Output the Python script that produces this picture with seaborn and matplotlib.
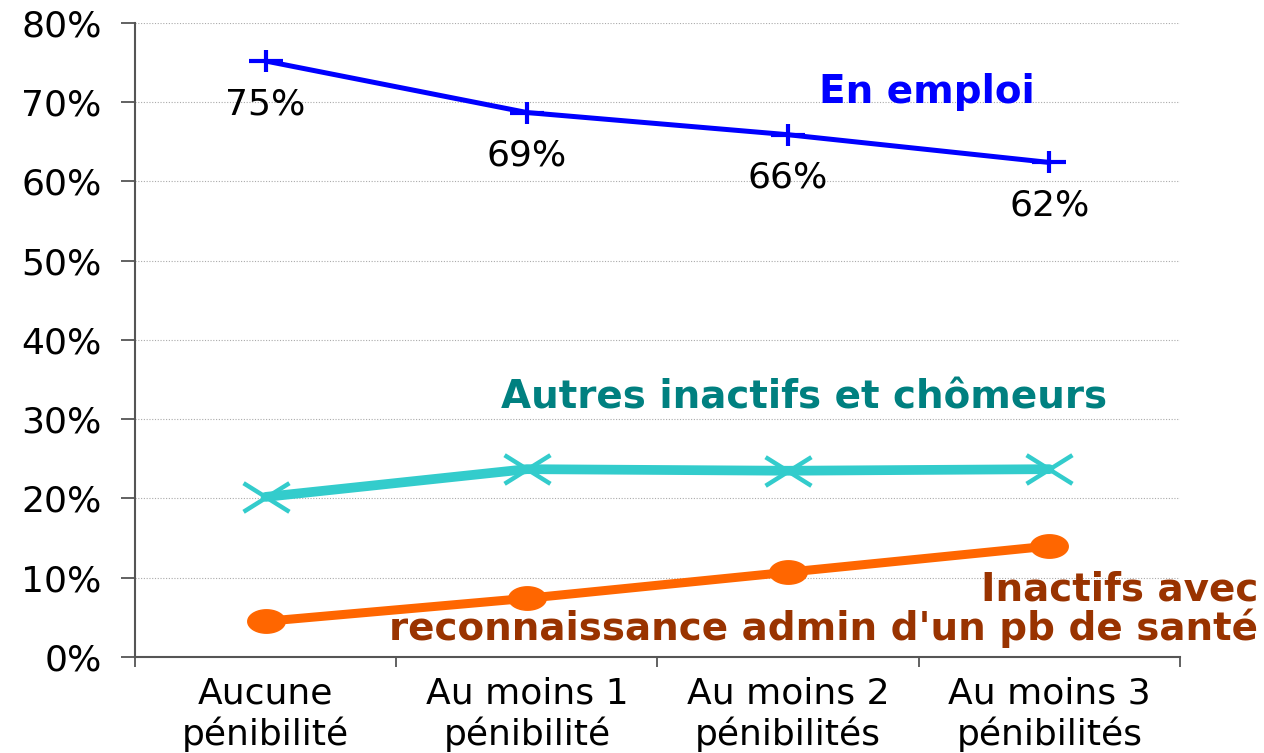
import numpy as np
import pandas as pd
import matplotlib
matplotlib.use("Agg")
import matplotlib.pyplot as plt
import seaborn as sns
from matplotlib.path import Path
from matplotlib.ticker import PercentFormatter

categories = ["Aucune\npénibilité", "Au moins 1\npénibilité",
              "Au moins 2\npénibilités", "Au moins 3\npénibilités"]
en_emploi = [75.2, 68.7, 65.9, 62.4]
autres_inactifs = [20.2, 23.7, 23.5, 23.7]
inactifs_sante = [4.5, 7.4, 10.7, 14.0]
label_emploi = "En emploi"
label_autres = "Autres inactifs et chômeurs"
label_sante = "Inactifs avec\nreconnaissance admin d'un pb de santé"

BLUE = "#0000FF"
CYAN = "#33CCCC"
TEAL = "#008080"
ORANGE = "#FF6600"
BROWN = "#993300"


# the markers in the original are stretched horizontally
def wide_plus(w=1.55):
    return Path([(-w, 0), (w, 0), (0, -1), (0, 1)],
                [Path.MOVETO, Path.LINETO, Path.MOVETO, Path.LINETO])


def wide_cross(w=1.6):
    return Path([(-w, -1), (w, 1), (-w, 1), (w, -1)],
                [Path.MOVETO, Path.LINETO, Path.MOVETO, Path.LINETO])


def wide_ellipse(w=1.6):
    t = np.linspace(0, 2 * np.pi, 64)
    return Path(np.column_stack([w * np.cos(t), np.sin(t)]), closed=True)


sns.set_style("white")
plt.rcParams["font.family"] = ["DejaVu Sans"]

fig = plt.figure(figsize=(12.64, 7.53), dpi=100)
ax = fig.add_axes([0.1068, 0.1275, 0.8267, 0.842])

x = list(range(len(categories)))

sns.lineplot(x=x, y=en_emploi, ax=ax, color=BLUE, linewidth=3.6,
             marker=wide_plus(), markersize=24, markeredgecolor=BLUE,
             markeredgewidth=3)
sns.lineplot(x=x, y=autres_inactifs, ax=ax, color=CYAN, linewidth=7,
             marker=wide_cross(), markersize=33, markeredgecolor=CYAN,
             markeredgewidth=3.2)
sns.lineplot(x=x, y=inactifs_sante, ax=ax, color=ORANGE, linewidth=6.5,
             marker=wide_ellipse(), markersize=27, markeredgecolor=ORANGE,
             markerfacecolor=ORANGE, markeredgewidth=1)

for xi, v in zip(x, en_emploi):
    ax.annotate(f"{v:.0f}%", (xi, v), xytext=(0, -31), textcoords="offset points",
                ha="center", va="center", fontsize=26, color="black")

ax.text(2.53, 71.3, label_emploi, color=BLUE, fontsize=28, fontweight="bold",
        ha="center", va="center")
ax.text(2.06, 32.8, label_autres, color=TEAL, fontsize=28, fontweight="bold",
        ha="center", va="center")
ax.text(3.80, 6.0, label_sante, color=BROWN, fontsize=28, fontweight="bold",
        ha="right", va="center", multialignment="right", linespacing=1.0)

ax.set_xlim(-0.5, len(categories) - 0.5)
ax.set_xticks(np.arange(-0.5, len(categories), 1))
ax.set_xticklabels([])
ax.set_xticks(x, minor=True)
ax.set_xticklabels(categories, minor=True, fontsize=26, color="black")
ax.tick_params(axis="x", which="minor", length=0, pad=14)
ax.tick_params(axis="x", which="major", length=7, width=1.3, color="#555555",
               direction="out", bottom=True)

ax.set_ylim(0, 80)
ax.set_yticks(range(0, 81, 10))
ax.yaxis.set_major_formatter(PercentFormatter(decimals=0))
ax.tick_params(axis="y", length=10, width=1.3, color="#555555", direction="out",
               labelsize=26, labelcolor="black", pad=14, left=True)
ax.yaxis.grid(True, linestyle=(0, (1, 1.5)), color="#AAAAAA", linewidth=0.8)
ax.xaxis.grid(False)

sns.despine(ax=ax)
for side in ["left", "bottom"]:
    ax.spines[side].set_color("#555555")
    ax.spines[side].set_linewidth(1.5)

fig.savefig("out.png", dpi=100)
